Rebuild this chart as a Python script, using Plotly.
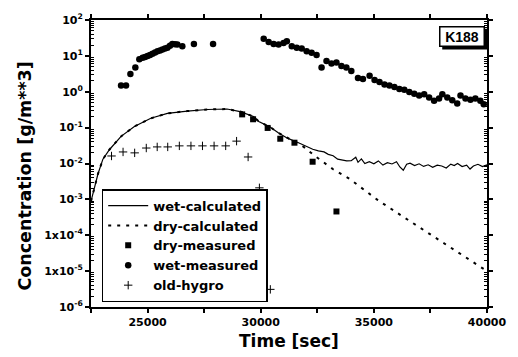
import plotly.graph_objects as go

# ---------------- data ----------------
wet_calc_t = [22500, 22513, 22807, 23026, 23320, 23829, 24417, 25145, 25877, 26754, 27632, 28509,
              29092, 29680, 29912, 30400, 30790, 31200, 31670, 32000, 32300, 32550, 32800, 32985, 33200,
              33400, 33600, 33800, 34000, 34200, 34300, 34450, 34600, 34800, 35000, 35200, 35400,
              35600, 35800, 36000, 36150, 36300, 36450, 36600, 36800, 37000, 37200, 37400, 37600,
              37800, 38000, 38200, 38400, 38550, 38700, 38900, 39100, 39250, 39400, 39600, 39800, 40000]
wet_calc_v = [0.0009, 0.00095, 0.0051, 0.0132, 0.0246, 0.057, 0.108, 0.182, 0.25, 0.29, 0.32, 0.33,
              0.28, 0.205, 0.148, 0.105, 0.071, 0.050, 0.038, 0.030, 0.025, 0.0224, 0.021, 0.018, 0.0165,
              0.0132, 0.0125, 0.0118, 0.0120, 0.0150, 0.0108, 0.0135, 0.0100, 0.0112, 0.0098, 0.0118, 0.0090,
              0.0105, 0.0097, 0.0112, 0.0080, 0.0065, 0.0095, 0.0102, 0.0088, 0.0098, 0.0083, 0.0092, 0.0078,
              0.0090, 0.0085, 0.0075, 0.0096, 0.0088, 0.0100, 0.0082, 0.0090, 0.0070, 0.0085, 0.0095, 0.0082, 0.0092]

dry_calc_t = [22500, 22513, 22807, 23026, 23320, 23829, 24417, 25145, 25877, 26754, 27632, 28509,
              29092, 29680, 29912, 30400, 30790, 31200, 31500, 31900, 32400, 33200, 33934, 35176,
              36500, 38000, 40000]
dry_calc_v = [0.0009, 0.00095, 0.0051, 0.0132, 0.0246, 0.057, 0.108, 0.182, 0.25, 0.29, 0.32, 0.33,
              0.28, 0.205, 0.148, 0.105, 0.071, 0.050, 0.040, 0.029, 0.0162, 0.0069, 0.0037, 0.00095,
              0.00027, 0.000065, 0.00001]

dry_meas_t = [29180, 29663, 30307, 30864, 31491, 32294, 33347]
dry_meas_v = [0.234, 0.171, 0.098, 0.049, 0.038, 0.0112, 0.00046]

wet_meas_t = [23829, 24048, 24241, 24460, 24636, 24781, 24890, 25000, 25110, 25219, 25330, 25439,
              25550, 25658, 25770, 25877, 25990, 26097, 26210, 26316, 26535, 27048, 27895,
              30132, 30351, 30570, 30790, 31009, 31154, 31373, 31592, 31811, 32031, 32250, 32469,
              32689, 32908, 33127, 33347, 33566, 33785, 34004, 34298, 34517, 34811, 35031, 35250,
              35469, 35689, 35908, 36127, 36346, 36566, 36785, 37004, 37224, 37443, 37662, 37882,
              38026, 38245, 38465, 38684, 38829, 39048, 39268, 39487, 39706, 39856]
wet_meas_v = [1.49, 1.49, 3.1, 4.75, 8.0, 8.9, 9.3, 9.9, 10.6, 11.5, 12.4, 13.5,
              14.2, 15.1, 16.0, 16.8, 19.0, 21.6, 21.0, 20.7, 18.6, 21.6, 21.6,
              30.0, 24.5, 21.6, 20.7, 23.0, 25.6, 18.6, 16.8, 16.0, 13.5, 12.3, 10.5,
              4.75, 7.2, 6.1, 6.5, 5.25, 4.75, 3.8, 2.4, 2.27, 2.8, 2.14, 1.86,
              1.59, 1.49, 1.35, 1.2, 1.13, 0.98, 0.88, 0.79, 0.85, 0.69, 0.56, 0.65,
              0.85, 0.69, 0.58, 0.47, 0.79, 0.65, 0.60, 0.65, 0.56, 0.45]

old_hygro_t = [23407, 23917, 24430, 24943, 25425, 25891, 26404, 26917, 27426, 27939, 28452, 28934,
               29443, 29942, 30425]
old_hygro_v = [0.0162, 0.021, 0.0198, 0.027, 0.029, 0.029, 0.031, 0.031, 0.031, 0.031, 0.031, 0.042,
               0.0152, 0.0021, 0.0000031]

y_tickvals = [1e2, 1e1, 1e0, 1e-1, 1e-2, 1e-3, 1e-4, 1e-5, 1e-6]
y_ticktext = ["10<sup>2</sup>", "10<sup>1</sup>", "10<sup>0</sup>", "10<sup>-1</sup>", "10<sup>-2</sup>",
              "10<sup>-3</sup>", "1x10<sup>-4</sup>", "1x10<sup>-5</sup>", "10<sup>-6</sup>"]
y_minor_vals = [m * 10.0 ** e for e in range(-6, 2) for m in range(2, 10)]

FONT = "'DejaVu Sans', sans-serif"
AFONT = "Arial, 'Liberation Sans', sans-serif"

fig = go.Figure()
fig.add_trace(go.Scatter(x=wet_calc_t, y=wet_calc_v, mode="lines", name="wet-calculated",
                         line=dict(color="black", width=1.2)))
fig.add_trace(go.Scatter(x=dry_calc_t, y=dry_calc_v, mode="lines", name="dry-calculated",
                         line=dict(color="black", width=2, dash="3px,6px")))
fig.add_trace(go.Scatter(x=dry_meas_t, y=dry_meas_v, mode="markers", name="dry-measured",
                         marker=dict(symbol="square", size=6, color="black")))
fig.add_trace(go.Scatter(x=wet_meas_t, y=wet_meas_v, mode="markers", name="wet-measured",
                         marker=dict(symbol="circle", size=6.5, color="black")))
fig.add_trace(go.Scatter(x=old_hygro_t, y=old_hygro_v, mode="markers", name="old-hygro",
                         marker=dict(symbol="cross-thin", size=6, color="black",
                                     line=dict(color="black", width=1))))

fig.update_layout(
    width=518, height=357,
    margin=dict(l=91, r=29, t=15, b=50),
    paper_bgcolor="white", plot_bgcolor="white",
    font=dict(family=FONT, color="black", size=12),
    showlegend=True,
    legend=dict(x=0.027, y=0.017, xanchor="left", yanchor="bottom",
                bgcolor="white", bordercolor="black", borderwidth=1.5,
                font=dict(size=13, family=FONT, weight="bold"), tracegroupgap=0, itemwidth=40,
                traceorder="normal"),
    xaxis=dict(range=[22500, 40000], tickmode="linear", tick0=25000, dtick=5000, tickformat="d",
               ticks="outside", ticklen=4, tickwidth=1.5, tickcolor="black",
               minor=dict(tickmode="linear", tick0=22500, dtick=2500, ticks="outside", ticklen=4,
                          tickwidth=1.5, tickcolor="black", showgrid=False),
               showline=True, linecolor="black", linewidth=2, mirror="allticks",
               showgrid=False, zeroline=False,
               tickfont=dict(size=11, family=FONT, weight="bold")),
    yaxis=dict(type="log", range=[-6, 2], tickmode="array", tickvals=y_tickvals, ticktext=y_ticktext,
               ticks="outside", ticklen=4, tickwidth=1.5, tickcolor="black",
               showline=True, linecolor="black", linewidth=2, mirror="allticks",
               showgrid=False, zeroline=False,
               minor=dict(tickmode="array", tickvals=y_minor_vals, ticks="inside", ticklen=3,
                          tickcolor="black", tickwidth=1, showgrid=False),
               tickfont=dict(size=11, family=FONT, weight="bold")),
)

# axis titles
fig.add_annotation(text="Time [sec]", xref="paper", yref="paper",
                   x=(290 - 91) / 398, y=-(342 - 307) / 292, showarrow=False,
                   font=dict(size=17, family=FONT, weight="bold"), xanchor="center", yanchor="middle")
fig.add_annotation(text="Concentration [g/m**3]", xref="paper", yref="paper",
                   x=-(91 - 25) / 398, y=(307 - 174) / 292, showarrow=False, textangle=-90,
                   font=dict(size=17.5, family=FONT, weight="bold"), xanchor="center", yanchor="middle")

# K188 label with shadow
fig.add_shape(type="rect", xref="paper", yref="paper",
              x0=(444 - 91) / 398, x1=(490 - 91) / 398, y0=(307 - 45) / 292, y1=(307 - 24) / 292,
              fillcolor="black", line=dict(width=0), layer="above")
fig.add_annotation(text="K188", xref="paper", yref="paper",
                   x=(464 - 91) / 398, y=(307 - 31.5) / 292, showarrow=False,
                   font=dict(size=14, family=AFONT, weight="bold"), bgcolor="white", bordercolor="black",
                   borderwidth=1.5, borderpad=0, width=43, height=18,
                   xanchor="center", yanchor="middle")

fig.write_html("out.html")
